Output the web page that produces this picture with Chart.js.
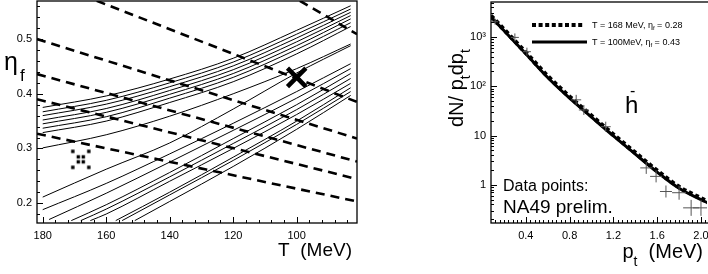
<!DOCTYPE html>
<html>
<head>
<meta charset="utf-8">
<script src="https://cdn.jsdelivr.net/npm/chart.js@4/dist/chart.umd.min.js"></script>
<style>
html, body { margin: 0; padding: 0; background: #fff; }
#wrap { position: relative; width: 708px; height: 274px; overflow: hidden; }
canvas { position: absolute; top: 0; }
#left { left: 0; }
#right { left: 380px; }
</style>
</head>
<body>
<div id="wrap">
<canvas id="left" width="360" height="274"></canvas>
<canvas id="right" width="328" height="274"></canvas>
</div>
<script>
// ---- left panel: eta_f vs T ----
const tGrid = [180, 160, 140, 120, 100, 83];
const upper1 = [0.375, 0.396, 0.427, 0.465, 0.516, 0.561];
const upper2 = [0.367, 0.388, 0.420, 0.458, 0.509, 0.555];
const upper3 = [0.360, 0.381, 0.413, 0.451, 0.502, 0.549];
const upper4 = [0.352, 0.373, 0.406, 0.444, 0.495, 0.543];
const upper5 = [0.345, 0.366, 0.399, 0.437, 0.488, 0.537];
const upper6 = [0.337, 0.358, 0.392, 0.430, 0.481, 0.530];
const upper7 = [0.329, 0.350, 0.384, 0.422, 0.473, 0.523];
const wedgeTop = [0.301, 0.325, 0.359, 0.400, 0.446, 0.491];
const wedgeBottom = [0.211, 0.262, 0.310, 0.372, 0.438, 0.488];

const lowerT = [
  [180, 160, 140, 120, 100, 83],
  [178, 160, 140, 120, 100, 83],
  [171, 160, 140, 120, 100, 83],
  [168, 160, 140, 120, 100, 83],
  [165, 160, 140, 120, 100, 83],
  [157, 140, 120, 100, 83],
  [155, 140, 120, 100, 83],
  [151, 140, 120, 100, 83]
];
const lowerEta = [
  [0.188, 0.236, 0.290, 0.346, 0.404, 0.455],
  [0.170, 0.218, 0.275, 0.333, 0.392, 0.446],
  [0.168, 0.197, 0.256, 0.318, 0.380, 0.437],
  [0.168, 0.189, 0.248, 0.309, 0.371, 0.428],
  [0.168, 0.180, 0.240, 0.300, 0.362, 0.419],
  [0.168, 0.220, 0.284, 0.350, 0.411],
  [0.168, 0.215, 0.278, 0.344, 0.404],
  [0.168, 0.203, 0.267, 0.335, 0.397]
];

// dashed lines (T, eta) end points
const dashT = [[99, 81], [163, 81], [181.8, 81], [181.8, 81], [181.8, 81], [181.8, 81]];
const dashEta = [[0.57, 0.509], [0.57, 0.385], [0.500, 0.318], [0.436, 0.276], [0.390, 0.244], [0.327, 0.203]];

const fitBest = { T: 100, eta: 0.43 };
const fitAlt = { T: 168, eta: 0.28 };

const tTicks = [180, 160, 140, 120, 100];
const etaTicks = [0.2, 0.3, 0.4, 0.5];

// ---- right panel: spectrum ----
const ptCurve = [0.08, 0.2, 0.4, 0.6, 0.8, 1.0, 1.2, 1.4, 1.6, 1.8, 2.0, 2.06];
const solidCurve = [2570, 1350, 457, 151, 57.5, 23.7, 9.8, 4.2, 1.81, 0.85, 0.50, 0.43];
const dottedCurve = [2700, 1420, 480, 160, 61, 25, 10.4, 4.45, 1.92, 0.90, 0.53, 0.455];
const ptData = [0.12, 0.30, 0.41, 0.86, 0.93, 1.13, 1.50, 1.59, 1.68, 1.80, 1.91, 2.00];
const yData = [2040, 980, 503, 53, 33, 15.1, 2.2, 1.48, 0.73, 0.69, 0.34, 0.34];
const errSize = [3, 4, 4, 5, 5, 5, 6, 6, 6, 7, 8, 8];
const ptTicks = [0.4, 0.8, 1.2, 1.6, 2.0];
const logTicks = [1, 10, 100, 1000];
const logLabels = ['1', '10', '10²', '10³'];

const FONT = '"Liberation Sans", Arial, sans-serif';

function pts(xs, ys) { return xs.map((x, i) => ({ x: x, y: ys[i] })); }

function contour(xs, ys) {
  return { data: pts(xs, ys), showLine: true, borderColor: '#000', borderWidth: 1,
           pointRadius: 0, cubicInterpolationMode: 'monotone', fill: false };
}

// dotted cross marker
const dotX = document.createElement('canvas');
dotX.width = 24; dotX.height = 24;
(function() {
  const c = dotX.getContext('2d');
  c.fillStyle = '#000';
  [[-8, -8], [8, -8], [-2.5, -2.5], [2.5, -2.5], [-2.5, 2.5], [2.5, 2.5], [-8, 8], [8, 8]]
    .forEach(d => c.fillRect(12 + d[0] - 1.7, 12 + d[1] - 1.7, 3.4, 3.4));
})();

function tickMarks(ctx, scale, values, len, horizontal, area) {
  values.forEach(function(v) {
    ctx.beginPath();
    if (horizontal) {
      const x = Math.round(scale.getPixelForValue(v)) + 0.5;
      ctx.moveTo(x, area.bottom); ctx.lineTo(x, area.bottom - len);
    } else {
      const y = Math.round(scale.getPixelForValue(v)) + 0.5;
      ctx.moveTo(area.left, y); ctx.lineTo(area.left + len, y);
    }
    ctx.stroke();
  });
}

function noPad(s) {
  s.paddingTop = 0; s.paddingBottom = 0; s.paddingLeft = 0; s.paddingRight = 0;
}

const leftDeco = {
  id: 'leftDeco',
  afterDraw(chart) {
    const ctx = chart.ctx, a = chart.chartArea, xs = chart.scales.x, ys = chart.scales.y;
    ctx.save();
    ctx.strokeStyle = '#000';
    ctx.lineWidth = 1.3;
    ctx.strokeRect(a.left, a.top, a.right - a.left, a.bottom - a.top);
    ctx.lineWidth = 1;
    const tMin = [], tMaj = [];
    for (let t = 84; t <= 180; t += 4) (t % 20 === 0 ? tMaj : tMin).push(t);
    tickMarks(ctx, xs, tMin, 3, true, a);
    tickMarks(ctx, xs, tMaj, 6, true, a);
    const eMin = [], eMaj = [];
    for (let k = 9; k <= 28; k++) (k % 5 === 0 ? eMaj : eMin).push(k * 0.02);
    tickMarks(ctx, ys, eMin, 3, false, a);
    tickMarks(ctx, ys, eMaj, 6, false, a);
    ctx.fillStyle = '#000';
    ctx.textBaseline = 'alphabetic';
    ctx.font = '25px ' + FONT;
    ctx.fillText('η', 4, 70);
    ctx.font = '17px ' + FONT;
    ctx.fillText('f', 20, 81);
    ctx.font = '19px ' + FONT;
    ctx.textAlign = 'right';
    ctx.fillText('T  (MeV)', 352, 256);
    ctx.restore();
  }
};

const rightDeco = {
  id: 'rightDeco',
  afterDraw(chart) {
    const ctx = chart.ctx, a = chart.chartArea, xs = chart.scales.x, ys = chart.scales.y;
    ctx.save();
    ctx.strokeStyle = '#000';
    ctx.lineWidth = 1.3;
    ctx.strokeRect(a.left, a.top, a.right - a.left + 4, a.bottom - a.top);
    ctx.lineWidth = 1;
    const pMin = [], pMaj = [];
    for (let k = 3; k <= 51; k++) (k % 10 === 0 ? pMaj : pMin).push(k * 0.04);
    tickMarks(ctx, xs, pMin, 3, true, a);
    tickMarks(ctx, xs, pMaj, 6, true, a);
    const lMin = [];
    [0.1, 1, 10, 100, 1000].forEach(d => { for (let m = 2; m <= 9; m++) lMin.push(d * m); });
    tickMarks(ctx, ys, lMin.filter(v => v > ys.min && v < ys.max), 3, false, a);
    tickMarks(ctx, ys, logTicks, 6, false, a);

    // legend
    ctx.lineWidth = 4;
    ctx.setLineDash([4, 2.6]);
    ctx.beginPath(); ctx.moveTo(152, 25); ctx.lineTo(204, 25); ctx.stroke();
    ctx.setLineDash([]);
    ctx.lineWidth = 3;
    ctx.beginPath(); ctx.moveTo(152, 42); ctx.lineTo(207, 42); ctx.stroke();
    ctx.fillStyle = '#000';
    function sub(parts, x, y) {
      parts.forEach(function(p) {
        ctx.font = p[1] + 'px ' + FONT;
        ctx.fillText(p[0], x, y + (p[2] || 0));
        x += ctx.measureText(p[0]).width;
      });
      return x;
    }
    sub([['T = 168 MeV, ', 9], ['η', 9], ['f', 6, 2], [' = 0.28', 9]], 212, 28);
    sub([['T = 100MeV, ', 9], ['η', 9], ['f', 6, 2], [' = 0.43', 9]], 212, 45);

    // labels in the frame
    ctx.font = '24px ' + FONT;
    ctx.fillText('h', 245, 113);
    ctx.font = '16px ' + FONT;
    ctx.fillText('-', 250, 96);
    ctx.fillText('Data points:', 123, 191);
    ctx.font = '19px ' + FONT;
    ctx.fillText('NA49 prelim.', 123, 213);

    // x title
    const xParts = [['p', 20], ['t', 14, 8], ['  (MeV)', 20]];
    let w = 0;
    xParts.forEach(p => { ctx.font = p[1] + 'px ' + FONT; w += ctx.measureText(p[0]).width; });
    sub(xParts, 323 - w, 258);

    // y title (rotated)
    ctx.translate(83, 127);
    ctx.rotate(-Math.PI / 2);
    sub([['dN/ p', 20], ['t', 14, 7], ['dp', 20], ['t', 14, 7]], 0, 0);
    ctx.restore();
  }
};

new Chart(document.getElementById('left'), {
  type: 'scatter',
  data: {
    datasets: [
      contour(tGrid, upper1), contour(tGrid, upper2), contour(tGrid, upper3), contour(tGrid, upper4),
      contour(tGrid, upper5), contour(tGrid, upper6), contour(tGrid, upper7),
      contour(tGrid, wedgeTop), contour(tGrid, wedgeBottom)
    ].concat(lowerT.map((t, i) => contour(t, lowerEta[i])))
     .concat(dashT.map((t, i) => ({
        data: pts(t, dashEta[i]), showLine: true, borderColor: '#000', borderWidth: 2.6,
        borderDash: [9, 6], pointRadius: 0, fill: false })))
     .concat([
       { data: [{ x: fitBest.T, y: fitBest.eta }], pointStyle: 'crossRot', pointRadius: 13,
         borderColor: '#000', borderWidth: 4.5, showLine: false },
       { data: [{ x: fitAlt.T, y: fitAlt.eta }], pointStyle: dotX, pointRadius: 10, showLine: false }
     ])
  },
  options: {
    responsive: false,
    animation: false,
    layout: { autoPadding: false, padding: { left: 0, top: 1, right: 3, bottom: 0 } },
    plugins: { legend: { display: false }, tooltip: { enabled: false } },
    scales: {
      x: {
        type: 'linear', reverse: true, min: 81, max: 181.8,
        grid: { display: false, drawTicks: false }, border: { display: false },
        afterBuildTicks: s => { s.ticks = tTicks.map(v => ({ value: v })); },
        afterFit: s => { s.height = 51; noPad(s); },
        ticks: { padding: 6, color: '#000', font: { family: FONT, size: 11 }, callback: v => String(v) }
      },
      y: {
        type: 'linear', min: 0.1636, max: 0.5697,
        grid: { display: false, drawTicks: false }, border: { display: false },
        afterBuildTicks: s => { s.ticks = etaTicks.map(v => ({ value: v })); },
        afterFit: s => { s.width = 37; noPad(s); },
        ticks: { padding: 5, color: '#000', font: { family: FONT, size: 11 }, callback: v => v.toFixed(1) }
      }
    }
  },
  plugins: [leftDeco]
});

new Chart(document.getElementById('right'), {
  type: 'scatter',
  data: {
    datasets: [
      { data: pts(ptData, yData), pointStyle: 'cross', pointRadius: errSize, borderColor: '#555',
        borderWidth: 1, showLine: false },
      { data: pts(ptCurve, dottedCurve), showLine: true, borderColor: '#000', borderWidth: 4.5,
        borderDash: [4, 3], pointRadius: 0, cubicInterpolationMode: 'monotone', fill: false },
      { data: pts(ptCurve, solidCurve), showLine: true, borderColor: '#000', borderWidth: 3,
        pointRadius: 0, cubicInterpolationMode: 'monotone', fill: false }
    ]
  },
  options: {
    responsive: false,
    animation: false,
    layout: { autoPadding: false, padding: { left: 0, top: 2, right: 1, bottom: 0 } },
    plugins: { legend: { display: false }, tooltip: { enabled: false } },
    scales: {
      x: {
        type: 'linear', min: 0.082, max: 2.055,
        grid: { display: false, drawTicks: false }, border: { display: false },
        afterBuildTicks: s => { s.ticks = ptTicks.map(v => ({ value: v })); },
        afterFit: s => { s.height = 51; noPad(s); },
        ticks: { padding: 6, color: '#000', font: { family: FONT, size: 11 }, callback: v => v.toFixed(1) }
      },
      y: {
        type: 'logarithmic', min: 0.1675, max: 5130,
        grid: { display: false, drawTicks: false }, border: { display: false },
        afterBuildTicks: s => { s.ticks = logTicks.map(v => ({ value: v })); },
        afterFit: s => { s.width = 111; noPad(s); },
        ticks: { padding: 5, color: '#000', font: { family: FONT, size: 11 },
                 callback: v => logLabels[logTicks.indexOf(v)] }
      }
    }
  },
  plugins: [rightDeco]
});
</script>
</body>
</html>
